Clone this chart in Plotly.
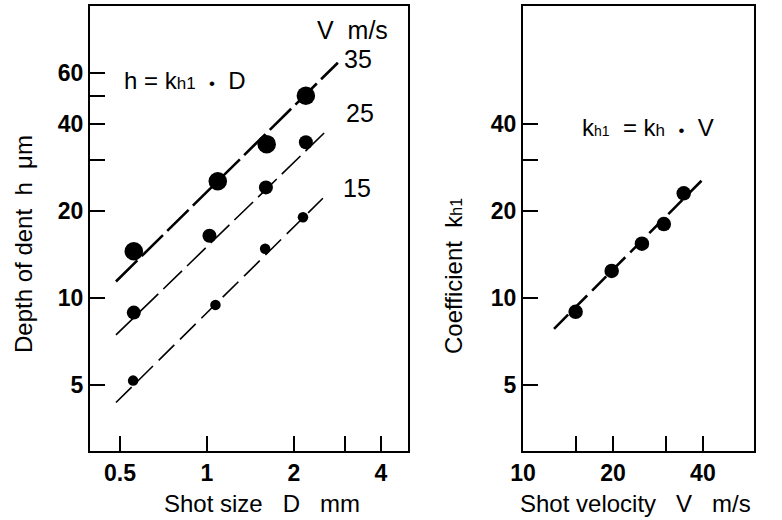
import plotly.graph_objects as go

# ---- data: left panel (depth of dent vs shot size) ----
velocities = ["35", "25", "15"]
shot_size_35 = [0.558, 1.09, 1.61, 2.2]
depth_35 = [14.5, 25.3, 34.0, 50.0]
shot_size_25 = [0.558, 1.02, 1.60, 2.2]
depth_25 = [8.9, 16.4, 24.1, 34.5]
shot_size_15 = [0.555, 1.07, 1.59, 2.15]
depth_15 = [5.18, 9.46, 14.8, 19.0]
# fitted lines (end points)
fit_x_35 = [0.484, 2.84]
fit_y_35 = [11.4, 65.0]
fit_x_25 = [0.484, 2.62]
fit_y_25 = [7.45, 38.2]
fit_x_15 = [0.484, 2.52]
fit_y_15 = [4.35, 22.1]

# ---- data: right panel (coefficient vs shot velocity) ----
shot_velocity = [15.0, 19.8, 25.0, 29.6, 34.5]
coefficient = [8.95, 12.4, 15.4, 18.0, 23.0]
fit_v = [12.7, 40.6]
fit_k = [7.82, 26.1]

# ---- tick labels ----
left_x_ticks = [0.5, 1, 2, 3, 4]
left_x_labels = ["0.5", "1", "2", "", "4"]
left_y_ticks = [5, 10, 20, 30, 40, 50, 60]
left_y_labels = ["5", "10", "20", "", "40", "", "60"]
right_x_ticks = [10, 15, 20, 30, 40]
right_x_labels = ["10", "", "20", "", "40"]
right_y_ticks = [5, 10, 20, 30, 40]
right_y_labels = ["5", "10", "20", "", "40"]

FONT = "Liberation Sans, Arial, sans-serif"
fig = go.Figure()

def line(x, y, w, dash, xa="x", ya="y"):
    fig.add_trace(go.Scatter(x=x, y=y, mode="lines", xaxis=xa, yaxis=ya,
                             line=dict(color="black", width=w, dash=dash),
                             showlegend=False, hoverinfo="skip"))

def dots(x, y, s, xa="x", ya="y"):
    fig.add_trace(go.Scatter(x=x, y=y, mode="markers", xaxis=xa, yaxis=ya,
                             marker=dict(color="black", size=s),
                             showlegend=False))

line(fit_x_35, fit_y_35, 2.6, "30px,6px")
line(fit_x_25, fit_y_25, 1.6, "26px,7px")
line(fit_x_15, fit_y_15, 1.6, "22px,8px")
dots(shot_size_35, depth_35, 18.5)
dots(shot_size_25, depth_25, 14)
dots(shot_size_15, depth_15, 10.5)
line(fit_v, fit_k, 2.6, "20px,7px", "x2", "y2")
dots(shot_velocity, coefficient, 14.5, "x2", "y2")

axis_common = dict(type="log", showgrid=False, zeroline=False, showline=True,
                   linecolor="black", linewidth=2, mirror=True, automargin=False,
                   ticks="inside", ticklen=15, tickwidth=1.5, tickcolor="black",
                   tickfont=dict(family=FONT, size=23, color="black", weight="bold"))

fig.update_layout(
    width=782, height=520,
    margin=dict(l=0, r=0, t=0, b=0),
    paper_bgcolor="white", plot_bgcolor="white",
    xaxis=dict(axis_common, domain=[0.1151, 0.5217],
               range=[-0.405, 0.696], tickmode="array",
               tickvals=left_x_ticks, ticktext=left_x_labels, anchor="y"),
    yaxis=dict(axis_common, domain=[0.1327, 0.9885],
               range=[0.471, 2.009], tickmode="array",
               tickvals=left_y_ticks, ticktext=left_y_labels, anchor="x"),
    xaxis2=dict(axis_common, domain=[0.6688, 0.9642],
                range=[1.0, 1.773], tickmode="array",
                tickvals=right_x_ticks, ticktext=right_x_labels, anchor="y2"),
    yaxis2=dict(axis_common, domain=[0.1327, 0.9885],
                range=[0.471, 2.009], tickmode="array",
                tickvals=right_y_ticks, ticktext=right_y_labels, anchor="x2"),
    font=dict(family=FONT, color="black"),
)

def ann(text, x, y, size, angle=0, xanchor="center"):
    fig.add_annotation(text=text, x=x, y=y, xref="paper", yref="paper",
                       showarrow=False, textangle=angle, xanchor=xanchor,
                       yanchor="middle",
                       font=dict(family=FONT, size=size, color="black"))

W, H = 782, 520
S = "&nbsp;"
BUL = "<span style='font-size:17px'>•</span>"
# axis titles
ann("Shot size" + S * 3 + "D" + S * 3 + "mm", 262 / W, 1 - 503 / H, 24)
ann("Shot velocity" + S * 3 + "V" + S * 3 + "m/s", 635 / W, 1 - 503 / H, 24)
ann("Depth of dent" + S * 2 + "h" + S * 2 + "μm", 23 / W, 1 - 244 / H, 24, angle=-90)
ann("Coefficient" + S * 2 + "k<span style='font-size:16px'>h1</span>", 453 / W, 1 - 276 / H, 24, angle=-90)
# in-plot labels
ann("V" + S * 2 + "m/s", 352 / W, 1 - 30 / H, 25)
ann(velocities[0], 358 / W, 1 - 59 / H, 25)
ann(velocities[1], 360 / W, 1 - 113 / H, 25)
ann(velocities[2], 357 / W, 1 - 188 / H, 25)
ann("h" + S + "=" + S + "k<span style='font-size:17px'>h1</span>" + S * 2 + BUL + S * 2 + "D",
    122 / W, 1 - 80 / H, 24, xanchor="left")
ann("k<span style='font-size:14px'>h1</span>" + S * 2 + "=" + S + "k<span style='font-size:17px'>h</span>"
    + S * 2 + BUL + S * 2 + "V", 580 / W, 1 - 127 / H, 24, xanchor="left")

fig.write_html("out.html")
